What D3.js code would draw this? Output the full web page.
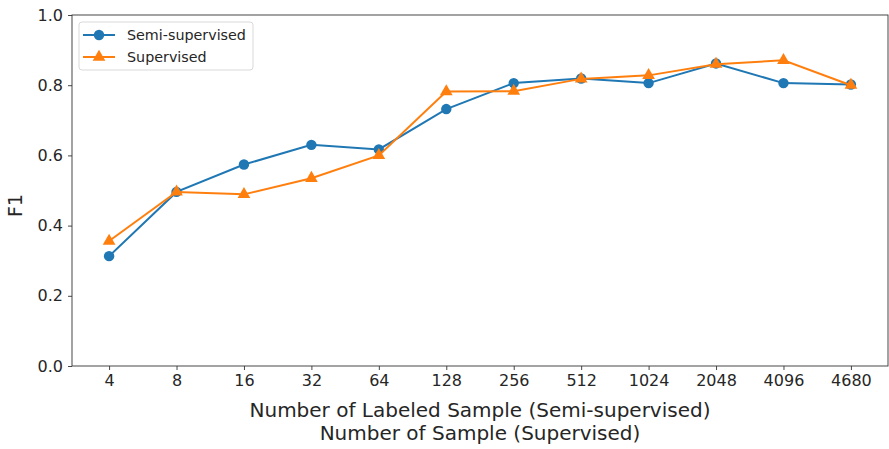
<!DOCTYPE html>
<html>
<head>
<meta charset="utf-8">
<script src="https://cdn.jsdelivr.net/npm/d3@7"></script>
<style>
  body { margin: 0; background: #fff; }
  text { font-family: "DejaVu Sans", sans-serif; fill: #262626; }
</style>
</head>
<body>
<svg id="chart" width="889" height="449"></svg>
<script>
const sampleLabels = ["4", "8", "16", "32", "64", "128", "256", "512", "1024", "2048", "4096", "4680"];
const semiSupervised = [0.313, 0.496, 0.574, 0.630, 0.617, 0.732, 0.806, 0.819, 0.806, 0.862, 0.806, 0.802];
const supervised = [0.356, 0.496, 0.489, 0.535, 0.600, 0.782, 0.783, 0.818, 0.828, 0.860, 0.871, 0.800];
const yTicks = [0.0, 0.2, 0.4, 0.6, 0.8, 1.0];

const svg = d3.select("#chart");
const margin = { top: 15, right: 1, bottom: 83, left: 72 };
const width = +svg.attr("width") - margin.left - margin.right;
const height = +svg.attr("height") - margin.top - margin.bottom;

const x = d3.scalePoint()
    .domain(sampleLabels)
    .range([0, width])
    .padding(0.55);

const y = d3.scaleLinear()
    .domain([0, 1])
    .range([height, 0]);

const g = svg.append("g")
    .attr("transform", "translate(" + margin.left + "," + margin.top + ")");

// axes
const xAxis = g.append("g")
    .attr("transform", "translate(0," + height + ")")
    .call(d3.axisBottom(x).tickSizeOuter(0).tickSize(4).tickPadding(5));
const yAxis = g.append("g")
    .call(d3.axisLeft(y).tickValues(yTicks).tickFormat(d3.format(".1f")).tickSizeOuter(0).tickSize(4).tickPadding(5));

[xAxis, yAxis].forEach(a => {
    a.selectAll(".domain").remove();
    a.selectAll("line").attr("stroke", "#333").attr("stroke-width", 0.9);
    a.selectAll("text").attr("font-size", 16).attr("fill", "#262626").attr("font-family", "DejaVu Sans");
});

// frame
g.append("rect")
    .attr("width", width)
    .attr("height", height)
    .attr("fill", "none")
    .attr("stroke", "#333")
    .attr("stroke-width", 0.9);

const series = [
    { name: "Semi-supervised", values: semiSupervised, color: "#1f77b4", shape: d3.symbolCircle },
    { name: "Supervised", values: supervised, color: "#ff7f0e", shape: d3.symbolTriangle }
];

const line = d3.line()
    .x((d, i) => x(sampleLabels[i]))
    .y(d => y(d));

series.forEach(s => {
    g.append("path")
        .datum(s.values)
        .attr("fill", "none")
        .attr("stroke", s.color)
        .attr("stroke-width", 2)
        .attr("d", line);
    g.selectAll(null)
        .data(s.values)
        .enter().append("path")
        .attr("transform", (d, i) => "translate(" + x(sampleLabels[i]) + "," + y(d) + ")")
        .attr("d", d3.symbol().type(s.shape).size(s.shape === d3.symbolCircle ? 85 : 70))
        .attr("fill", s.color);
});

// legend
const legend = g.append("g").attr("transform", "translate(7,7)");
legend.append("rect")
    .attr("width", 174)
    .attr("height", 48)
    .attr("rx", 3)
    .attr("fill", "#fff")
    .attr("fill-opacity", 0.8)
    .attr("stroke", "#d9d9d9");
series.forEach((s, i) => {
    const ly = 13 + i * 22;
    legend.append("line")
        .attr("x1", 4).attr("x2", 36)
        .attr("y1", ly).attr("y2", ly)
        .attr("stroke", s.color).attr("stroke-width", 2);
    legend.append("path")
        .attr("transform", "translate(20," + ly + ")")
        .attr("d", d3.symbol().type(s.shape).size(s.shape === d3.symbolCircle ? 85 : 70))
        .attr("fill", s.color);
    legend.append("text")
        .attr("x", 48)
        .attr("y", ly)
        .attr("dy", "0.35em")
        .attr("font-size", 14.3)
        .text(s.name);
});

// axis labels
g.append("text")
    .attr("x", width / 2)
    .attr("y", height + 51)
    .attr("text-anchor", "middle")
    .attr("font-size", 20)
    .text("Number of Labeled Sample (Semi-supervised)");
g.append("text")
    .attr("x", width / 2)
    .attr("y", height + 74)
    .attr("text-anchor", "middle")
    .attr("font-size", 20)
    .text("Number of Sample (Supervised)");

g.append("text")
    .attr("transform", "rotate(-90)")
    .attr("x", -height / 2 - 15)
    .attr("y", -50)
    .attr("text-anchor", "middle")
    .attr("font-size", 19)
    .text("F1");
</script>
</body>
</html>
